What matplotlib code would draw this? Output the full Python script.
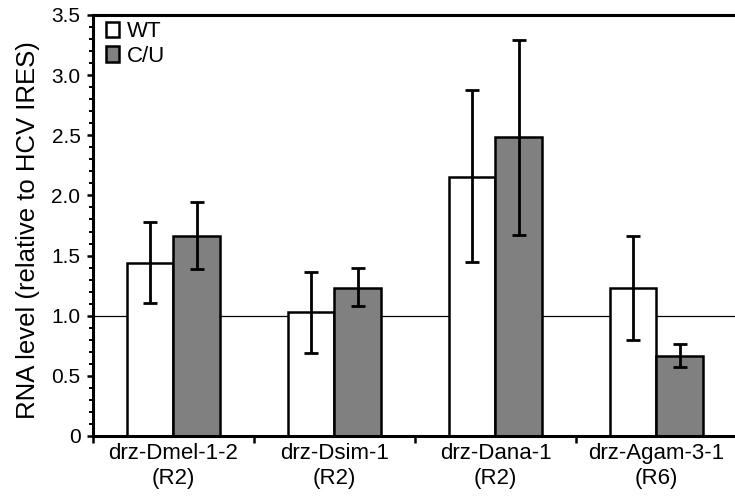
import numpy as np
import matplotlib.pyplot as plt
from matplotlib.ticker import MultipleLocator, FixedLocator

plt.rcParams['font.family'] = ['Liberation Sans', 'DejaVu Sans']

# data
constructs = ['drz-Dmel-1-2\n(R2)', 'drz-Dsim-1\n(R2)', 'drz-Dana-1\n(R2)', 'drz-Agam-3-1\n(R6)']
wt_mean = [1.435, 1.03, 2.155, 1.228]
wt_low = [1.105, 0.69, 1.444, 0.80]
wt_high = [1.775, 1.366, 2.876, 1.66]
cu_mean = [1.66, 1.233, 2.483, 0.665]
cu_low = [1.39, 1.08, 1.668, 0.571]
cu_high = [1.945, 1.397, 3.29, 0.762]
yticks = [0, 0.5, 1.0, 1.5, 2.0, 2.5, 3.0, 3.5]
ytick_labels = ['0', '0.5', '1.0', '1.5', '2.0', '2.5', '3.0', '3.5']

x = np.arange(len(constructs))
w = 0.286

fig = plt.figure(figsize=(7.35, 4.98), dpi=100)
ax = fig.add_axes([0.1265, 0.1245, 0.8762, 0.8454])

ax.axhline(1.0, color='black', lw=0.9, zorder=1)

wt_err = [np.array(wt_mean) - np.array(wt_low), np.array(wt_high) - np.array(wt_mean)]
cu_err = [np.array(cu_mean) - np.array(cu_low), np.array(cu_high) - np.array(cu_mean)]

ax.bar(x - w / 2, wt_mean, w, color='white', edgecolor='black', lw=1.8, zorder=2, label='WT')
ax.bar(x + w / 2, cu_mean, w, color='#808080', edgecolor='black', lw=1.8, zorder=2, label='C/U')
ax.errorbar(x - w / 2, wt_mean, yerr=wt_err, fmt='none', ecolor='black', elinewidth=2,
            capsize=5, capthick=2, zorder=3)
ax.errorbar(x + w / 2, cu_mean, yerr=cu_err, fmt='none', ecolor='black', elinewidth=2,
            capsize=5, capthick=2, zorder=3)

ax.set_xlim(-0.5, 3.5)
ax.set_ylim(0, 3.5)

ax.set_yticks(yticks)
ax.set_yticklabels(ytick_labels)
ax.yaxis.set_minor_locator(MultipleLocator(0.1))

ax.set_xticks(x)
ax.set_xticklabels(constructs, linespacing=1.25)
ax.xaxis.set_minor_locator(FixedLocator([-0.5, 0.5, 1.5, 2.5]))
ax.tick_params(axis='x', which='major', length=0, pad=5, labelsize=16)
ax.tick_params(axis='x', which='minor', length=5, width=1.8, direction='out')
ax.tick_params(axis='y', which='major', length=4, width=1.8, direction='out', labelsize=15, pad=5)
ax.tick_params(axis='y', which='minor', length=3, width=1.4, direction='out')

for s in ax.spines.values():
    s.set_linewidth(2.2)

ax.set_ylabel('RNA level (relative to HCV IRES)', fontsize=18.5)
ax.yaxis.set_label_coords(-0.083, 0.49)

ax.legend(loc='upper left', bbox_to_anchor=(0.006, 1.006), frameon=False, fontsize=16,
          handlelength=0.6, handleheight=0.7, handletextpad=0.35, labelspacing=0.15,
          borderaxespad=0.0, borderpad=0.4)

fig.savefig('out.png', dpi=100)
